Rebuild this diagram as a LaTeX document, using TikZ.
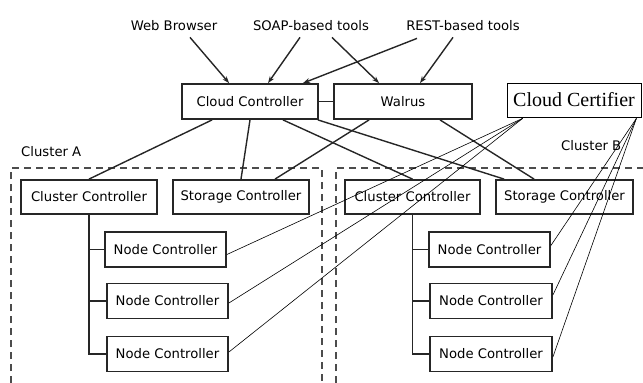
\documentclass[tikz,border=0pt]{standalone}
\usepackage{fontspec}
\setmainfont{DejaVu Sans}
\newfontfamily\certfont{Liberation Serif}
\usetikzlibrary{arrows.meta,calc}
\begin{document}
\begin{tikzpicture}[x=1pt,y=-1pt,
  box/.style={draw=black!85,line width=1.8pt,minimum height=35pt,inner sep=0pt,font=\fontsize{13.2}{15}\selectfont},
  lbl/.style={inner sep=0pt,anchor=base,font=\fontsize{13.2}{15}\selectfont},
  link/.style={draw=black!85,line width=1.4pt},
  thinlink/.style={draw=black,line width=0.6pt},
  arr/.style={link,-{Stealth[length=7pt,width=5pt]}},
  cluster/.style={draw=black!70,line width=1.8pt,dash pattern=on 7pt off 5pt}]
\useasboundingbox (0,0) rectangle (643,383);

% clusters
\draw[cluster] (11,383) -- (11,168) -- (322,168) -- (322,383);
\draw[cluster] (336,383) -- (336,168) -- (643,168);

% labels
\node[lbl] (web) at (174,30) {Web Browser};
\node[lbl] (soap) at (311,30) {SOAP-based tools};
\node[lbl] (rest) at (463,30) {REST-based tools};
\node[lbl,anchor=base west] (cla) at (21,156) {Cluster A};
\node[lbl,anchor=base west] (clb) at (561,150) {Cluster B};

% top boxes
\node[box,minimum width=136pt] (cc) at (250,101.5) {Cloud Controller};
\node[box,minimum width=138pt] (wal) at (403,101.5) {Walrus};
\node[draw=black,line width=0.8pt,minimum width=134pt,minimum height=34pt,inner sep=0pt,font=\certfont\fontsize{20}{24}\selectfont] (cert) at (574,100) {Cloud Certifier};

% cluster A
\node[box,minimum width=136pt,minimum height=34pt] (acc) at (89,197) {Cluster Controller};
\node[box,minimum width=136pt,minimum height=34pt] (asc) at (241,197) {Storage Controller};
\node[box,minimum width=121pt] (anc1) at (165.5,249.5) {Node Controller};
\node[box,minimum width=121pt] (anc2) at (167.5,301) {Node Controller};
\node[box,minimum width=121pt] (anc3) at (167.5,354) {Node Controller};

% cluster B
\node[box,minimum width=135pt,minimum height=34pt] (bcc) at (412.5,197) {Cluster Controller};
\node[box,minimum width=137pt,minimum height=34pt] (bsc) at (564.5,197) {Storage Controller};
\node[box,minimum width=121pt] (bnc1) at (489.5,249.5) {Node Controller};
\node[box,minimum width=122pt] (bnc2) at (491,301) {Node Controller};
\node[box,minimum width=122pt] (bnc3) at (491,354) {Node Controller};

% arrows from clients
\draw[arr] ($(web.south)+(16,7)$) -- ($(cc.north west)+(48,0)$);
\draw[arr] ($(soap.south)+(-11,7)$) -- ($(cc.north)+(18,0)$);
\draw[arr] ($(soap.south)+(21,7)$) -- ($(wal.north west)+(46,0)$);
\draw[arr] ($(rest.south)+(-46,8)$) -- ($(cc.north)+(53,0)$);
\draw[arr] ($(rest.south)+(-10,7)$) -- ($(wal.north)+(17,0)$);

% cloud controller - walrus
\draw[link] (cc.east) -- (wal.west);

% to clusters
\draw[link] ($(cc.south west)+(31,0)$) -- (acc.north);
\draw[link] (cc.south) -- (asc.north);
\draw[link] ($(wal.south west)+(36,0)$) -- ($(asc.north)+(34,0)$);
\draw[link] ($(cc.south)+(33,0)$) -- (bcc.north);
\draw[link] ($(cc.south east)+(-1,0)$) -- ($(bsc.north west)+(9,0)$);
\draw[link] ($(wal.south)+(37,0)$) -- ($(bsc.north west)+(39,0)$);

% trunks
\draw[link] (acc.south) -- (acc.south |- anc3.west) -- (anc3.west);
\draw[link] (acc.south |- anc1.west) -- (anc1.west);
\draw[link] (acc.south |- anc2.west) -- (anc2.west);
\draw[link] (bcc.south) -- (bcc.south |- bnc3.west) -- (bnc3.west);
\draw[link] (bcc.south |- bnc1.west) -- (bnc1.west);
\draw[link] (bcc.south |- bnc2.west) -- (bnc2.west);

% certifier links
\draw[thinlink] ($(cert.south west)+(16,1)$) -- ($(anc1.east)+(0,5)$);
\draw[thinlink] ($(cert.south west)+(16,1)$) -- ($(anc2.east)+(0,2)$);
\draw[thinlink] ($(cert.south west)+(16,1)$) -- ($(anc3.east)+(0,-2)$);
\draw[thinlink] ($(cert.south east)+(-5,1)$) -- ($(bnc1.east)+(0,-4)$);
\draw[thinlink] ($(cert.south east)+(-5,1)$) -- ($(bnc2.east)+(0,-6)$);
\draw[thinlink] ($(cert.south east)+(-5,1)$) -- ($(bnc3.east)+(0,3)$);
\end{tikzpicture}
\end{document}
